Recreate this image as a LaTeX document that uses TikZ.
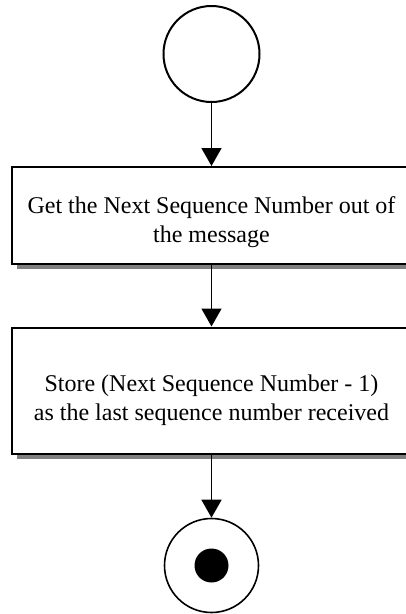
\documentclass[tikz,border=0pt]{standalone}
\usepackage{fontspec}
\setmainfont{Liberation Serif}
\usetikzlibrary{shapes.geometric, arrows.meta, positioning, shadows}
\tikzstyle{startstate} = [
  circle,
  minimum size=96pt,
  inner sep=0,
  draw=black,
  line width=2pt,
  fill=white
]
\tikzstyle{endstate} = [
  circle,
  minimum size=94pt,
  inner sep=0,
  draw=black,
  line width=1.6pt,
  fill=white
]
\tikzstyle{enddot} = [
  circle,
  minimum size=34pt,
  inner sep=0,
  fill=black
]
\tikzstyle{stepbox} = [
  rectangle,
  minimum width=400pt,
  inner sep=0,
  draw=black,
  line width=2pt,
  fill=white,
  drop shadow={shadow xshift=5pt, shadow yshift=-5pt, fill=black!50, opacity=1}
]
\tikzstyle{steptext} = [
  text centered,
  align=center,
  inner sep=0,
  font=\fontsize{24pt}{29pt}\selectfont
]
\tikzstyle{arrow} = [
  line width=1.6pt,
  -{Triangle[length=18pt,width=20pt]}
]

\begin{document}
\begin{tikzpicture}[node distance=175pt]

    \useasboundingbox (0,0) rectangle (406pt,-614pt);

    \node (start) [startstate] at (211.5pt,-54pt) {};
    \node (get) [stepbox, minimum height=97pt, below of=start, yshift=13.5pt] {};
    \node (store) [stepbox, minimum height=126pt, below of=get] {};
    \node (end) [endstate, below of=store] {};
    \node (enddot) [enddot] at (end.center) {};

    \node (gettext) [steptext] at ([yshift=-6.5pt]get.center) {Get the Next Sequence Number out of\\the message};
    \node (storetext) [steptext] at ([yshift=-10pt]store.center) {Store (Next Sequence Number - 1)\\as the last sequence number received};

    \draw [arrow] (start) -- (get);
    \draw [arrow] (get) -- (store);
    \draw [arrow] (store) -- (end);

  \end{tikzpicture}
\end{document}
